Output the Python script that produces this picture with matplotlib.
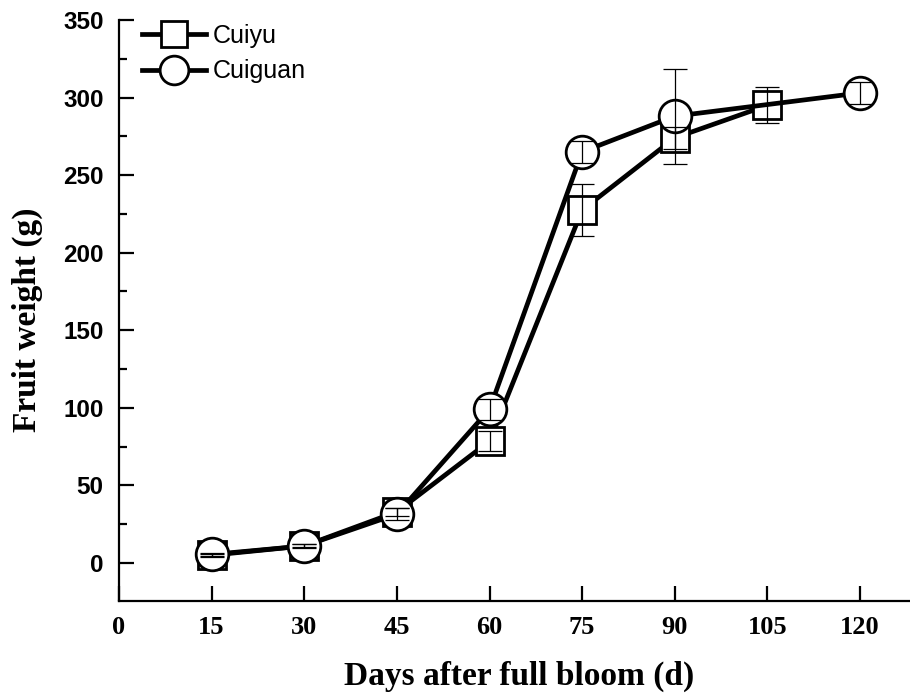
import matplotlib
matplotlib.use("Agg")
import matplotlib.pyplot as plt
from matplotlib.ticker import MultipleLocator

cuiyu_days = [15, 30, 45, 60, 75, 90, 105]
cuiyu = [5, 11, 33, 78.5, 227.5, 274, 295]
cuiyu_err = [1, 1, 2.5, 6.5, 16.5, 7, 11.5]
cuiguan_days = [15, 30, 45, 60, 75, 90, 120]
cuiguan = [5.5, 11, 31.5, 99, 265, 288, 303]
cuiguan_err = [1, 1.5, 4, 7, 7, 30.5, 7]
xticks = [0, 15, 30, 45, 60, 75, 90, 105, 120]
yticks = [0, 50, 100, 150, 200, 250, 300, 350]

W, H = 910, 698
fig = plt.figure(figsize=(W / 100, H / 100), dpi=100)
L, R, T, B = 119, 910, 20, 601
ax = fig.add_axes([L / W, 1 - B / H, (R - L) / W, (B - T) / H])

ax.plot(cuiyu_days, cuiyu, color='black', lw=3.4, marker='s', ms=20.5, mfc='white',
        mec='black', mew=2, zorder=2, label='Cuiyu')
ax.plot(cuiguan_days, cuiguan, color='black', lw=3.4, marker='o', ms=23.5, mfc='white',
        mec='black', mew=2, zorder=3, label='Cuiguan')
ax.errorbar(cuiyu_days, cuiyu, yerr=cuiyu_err, fmt='none', ecolor='black',
            elinewidth=0.9, capsize=8.5, capthick=0.9, zorder=4)
ax.errorbar(cuiguan_days, cuiguan, yerr=cuiguan_err, fmt='none', ecolor='black',
            elinewidth=0.9, capsize=8.5, capthick=0.9, zorder=4)

ax.set_xlim(0, (R - L) / 6.175)
ax.set_ylim(-24.5, 350)
ax.set_xticks(xticks)
ax.set_yticks(yticks)
ax.yaxis.set_minor_locator(MultipleLocator(25))

for s in ['top', 'right']:
    ax.spines[s].set_visible(False)
for s in ['left', 'bottom']:
    ax.spines[s].set_linewidth(1.6)

ax.tick_params(axis='both', which='major', direction='in', length=10.5, width=1.6)
ax.tick_params(axis='y', which='minor', direction='in', length=6, width=1.6)
ax.tick_params(axis='y', which='major', pad=11)
ax.tick_params(axis='x', which='major', pad=11)

for lab in ax.get_yticklabels():
    lab.set_fontfamily('Liberation Sans')
    lab.set_fontweight('bold')
    lab.set_fontsize(17.5)
for lab in ax.get_xticklabels():
    lab.set_fontfamily('Liberation Serif')
    lab.set_fontweight('bold')
    lab.set_fontsize(19)

fig.text(519 / W, 1 - 676 / H, 'Days after full bloom (d)', ha='center', va='center',
         fontfamily='Liberation Serif', fontweight='bold', fontsize=24)
fig.text(27 / W, 1 - 320 / H, 'Fruit weight (g)', ha='center', va='center', rotation=90,
         fontfamily='Liberation Serif', fontweight='bold', fontsize=24)

leg = ax.legend(loc='upper left', bbox_to_anchor=((142 - L) / (R - L), (B - 24) / (B - T)),
                frameon=False, borderpad=0, borderaxespad=0, handlelength=2.56,
                handletextpad=0.28, labelspacing=0.45, markerscale=0.88,
                prop={'family': 'Liberation Sans', 'size': 18})

fig.savefig('out.png', dpi=100)
